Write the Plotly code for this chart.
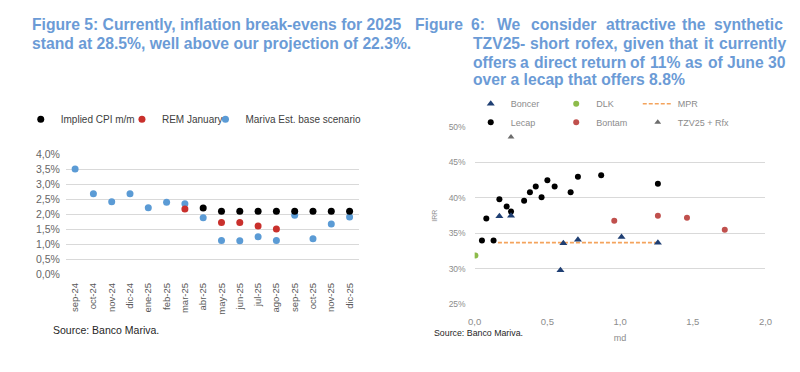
import plotly.graph_objects as go

# ---------------- Data: Figure 5 ----------------
months = ["sep-24", "oct-24", "nov-24", "dic-24", "ene-25", "feb-25", "mar-25", "abr-25",
          "may-25", "jun-25", "jul-25", "ago-25", "sep-25", "oct-25", "nov-25", "dic-25"]
implied_cpi = [None, None, None, None, None, None, None, 2.20,
               2.09, 2.09, 2.09, 2.09, 2.09, 2.09, 2.09, 2.09]
rem_january = [None, None, None, None, None, None, 2.17, None,
               1.72, 1.72, 1.60, 1.50, None, None, None, None]
mariva_base = [3.50, 2.68, 2.41, 2.68, 2.21, 2.39, 2.34, 1.88,
               1.12, 1.11, 1.24, 1.12, 1.96, 1.18, 1.67, 1.90]
left_yticks = [0.0, 0.5, 1.0, 1.5, 2.0, 2.5, 3.0, 3.5, 4.0]
left_ytext = ["0,0%", "0,5%", "1,0%", "1,5%", "2,0%", "2,5%", "3,0%", "3,5%", "4,0%"]

# ---------------- Data: Figure 6 ----------------
boncer_md = [0.17, 0.25, 0.59, 0.61, 0.71, 1.01, 1.26]
boncer_irr = [37.4, 37.5, 29.8, 33.6, 34.1, 34.5, 33.7]
lecap_md = [0.05, 0.08, 0.13, 0.17, 0.22, 0.25, 0.34, 0.38, 0.42, 0.46, 0.50, 0.55, 0.66, 0.71, 0.87, 1.26]
lecap_irr = [34.0, 37.1, 34.0, 39.8, 38.8, 38.1, 39.6, 40.8, 41.6, 40.1, 42.5, 41.6, 40.8, 43.0, 43.2, 42.0]
dlk_md = [0.005]
dlk_irr = [31.9]
bontam_md = [0.96, 1.26, 1.46, 1.72]
bontam_irr = [36.8, 37.5, 37.2, 35.5]
mpr_md = [0.16, 1.26]
mpr_irr = [33.7, 33.7]
tzv_md = [0.25]
tzv_irr = [48.6]
right_yticks = [25, 30, 35, 40, 45, 50]
right_ytext = ["25%", "30%", "35%", "40%", "45%", "50%"]
right_xticks = [0.0, 0.5, 1.0, 1.5, 2.0]
right_xtext = ["0,0", "0,5", "1,0", "1,5", "2,0"]

W, H = 800, 372
FONT = "Liberation Sans"
TITLE_BLUE = "#6b9bd6"


def px(x):
    return x / W


def py(y):
    return 1 - y / H


fig = go.Figure()

# Left chart traces
fig.add_trace(go.Scatter(x=months, y=mariva_base, mode="markers", name="Mariva Est. base scenario",
                         marker=dict(color="#5b9bd5", size=7), xaxis="x", yaxis="y", legend="legend3"))
fig.add_trace(go.Scatter(x=months, y=rem_january, mode="markers", name="REM January",
                         marker=dict(color="#c9302c", size=7), xaxis="x", yaxis="y", legend="legend2"))
fig.add_trace(go.Scatter(x=months, y=implied_cpi, mode="markers", name="Implied CPI m/m",
                         marker=dict(color="#000000", size=7), xaxis="x", yaxis="y", legend="legend"))

# Right chart traces
fig.add_trace(go.Scatter(x=mpr_md, y=mpr_irr, mode="lines", name="MPR",
                         line=dict(color="#f4a35c", width=1.6, dash="4px,2px"),
                         xaxis="x2", yaxis="y2", legend="legend6"))
fig.add_trace(go.Scatter(x=lecap_md, y=lecap_irr, mode="markers", name="Lecap",
                         marker=dict(color="#000000", size=6), xaxis="x2", yaxis="y2", legend="legend7"))
fig.add_trace(go.Scatter(x=boncer_md, y=boncer_irr, mode="markers", name="Boncer",
                         marker=dict(color="#1f3f73", size=7, symbol="triangle-up"),
                         xaxis="x2", yaxis="y2", legend="legend4"))
fig.add_trace(go.Scatter(x=dlk_md, y=dlk_irr, mode="markers", name="DLK",
                         marker=dict(color="#8dbb4a", size=6), xaxis="x2", yaxis="y2", legend="legend5"))
fig.add_trace(go.Scatter(x=bontam_md, y=bontam_irr, mode="markers", name="Bontam",
                         marker=dict(color="#c0504d", size=6), xaxis="x2", yaxis="y2", legend="legend8"))
fig.add_trace(go.Scatter(x=tzv_md, y=tzv_irr, mode="markers", name="TZV25 + Rfx",
                         marker=dict(color="#6d6d6d", size=6, symbol="triangle-up"),
                         xaxis="x2", yaxis="y2", legend="legend9"))


def leg(x_item_start, y_center, size, color):
    return dict(x=px(x_item_start), y=py(y_center), xanchor="left", yanchor="middle",
                orientation="h", bgcolor="rgba(0,0,0,0)", borderwidth=0,
                font=dict(family=FONT, size=size, color=color), itemclick=False)


LEFT_LEG = "#404040"
RIGHT_LEG = "#8c8c8c"
layout_legends = dict(
    legend=leg(14, 117, 10, LEFT_LEG),
    legend2=leg(117, 117, 10, LEFT_LEG),
    legend3=leg(202, 117, 10, LEFT_LEG),
    legend4=leg(472, 101, 9, RIGHT_LEG),
    legend5=leg(559, 101, 9, RIGHT_LEG),
    legend6=leg(642, 101, 9, RIGHT_LEG),
    legend7=leg(472, 120, 9, RIGHT_LEG),
    legend8=leg(559, 120, 9, RIGHT_LEG),
    legend9=leg(642, 120, 9, RIGHT_LEG),
)

fig.update_layout(
    width=W, height=H, margin=dict(l=0, r=0, t=0, b=0),
    paper_bgcolor="white", plot_bgcolor="white",
    font=dict(family=FONT, color="#595959"),
    showlegend=True,
    xaxis=dict(domain=[px(60), px(358)], type="category", range=[-0.5, 15.5],
               tickangle=-90, showgrid=False, zeroline=False, showline=False, ticks="",
               ticklabelstandoff=6,
               tickfont=dict(size=9.5, color="#595959"), anchor="y", fixedrange=True),
    yaxis=dict(domain=[py(277), py(153)], range=[0, 4.0], tickvals=left_yticks, ticktext=left_ytext,
               showgrid=True, gridcolor="#d9d9d9", gridwidth=1, zeroline=False, showline=False,
               ticks="", ticklabelstandoff=5,
               tickfont=dict(size=10.5, color="#666666"), anchor="x", fixedrange=True),
    xaxis2=dict(domain=[px(476), px(772)], range=[0, 2.0], tickvals=right_xticks, ticktext=right_xtext,
                showgrid=False, zeroline=False, showline=False, ticks="", ticklabelstandoff=10,
                tickfont=dict(size=9.5, color="#8c8c8c"), anchor="y2",
                title=dict(text="md", font=dict(size=9, color="#8c8c8c"), standoff=8), fixedrange=True),
    yaxis2=dict(domain=[py(308.3), py(125)], range=[25, 50], tickvals=right_yticks, ticktext=right_ytext,
                showgrid=True, gridcolor="#d9d9d9", gridwidth=1, zeroline=False, showline=False,
                ticks="", ticklabelstandoff=8,
                tickfont=dict(size=8.5, color="#8c8c8c"), anchor="x2",
                title=dict(text="IRR", font=dict(size=7, color="#8c8c8c"), standoff=10), fixedrange=True),
    **layout_legends,
)

annotations = []


def text_ann(x, y, text, size, color, bold=False, xanchor="left"):
    annotations.append(dict(
        x=px(x), y=py(y), xref="paper", yref="paper", xanchor=xanchor, yanchor="middle",
        text=f"<b>{text}</b>" if bold else text, showarrow=False,
        font=dict(family=FONT, size=size, color=color)))


# Figure 5 title
text_ann(23, 19, "Figure 5: Currently, inflation break-evens for 2025", 15.7, TITLE_BLUE, True)
text_ann(23, 39, "stand at 28.5%, well above our projection of 22.3%.", 15.7, TITLE_BLUE, True)

# Figure 6 title (justified lines placed word by word)
title6_lines = [
    (19, ["Figure", "6:", "We", "consider", "attractive", "the", "synthetic"],
     [413, 470, 497, 531, 608, 685, 718]),
    (39, ["TZV25-", "short", "rofex,", "given", "that", "it", "currently"],
     [472, 530.5, 576, 625, 672, 707, 723]),
    (58, ["offers", "a", "direct", "return", "of", "11%", "as", "of", "June", "30"],
     [472, 520.5, 534.5, 582, 632.5, 652, 688.5, 711, 731, 772.5]),
]
for ly, words, xs in title6_lines:
    for wx, wd in zip(xs, words):
        text_ann(wx, ly, wd, 15.7, TITLE_BLUE, True)
text_ann(472, 76, "over a lecap that offers 8.8%", 15.7, TITLE_BLUE, True)

# Sources
text_ann(45, 335, "Source: Banco Mariva.", 10.5, "#262626")
text_ann(433, 338, "Source: Banco Mariva.", 8.8, "#262626")

fig.update_layout(annotations=annotations)

fig.write_html("out.html", config={"displayModeBar": False},
               post_script="document.body.style.margin='0';")
